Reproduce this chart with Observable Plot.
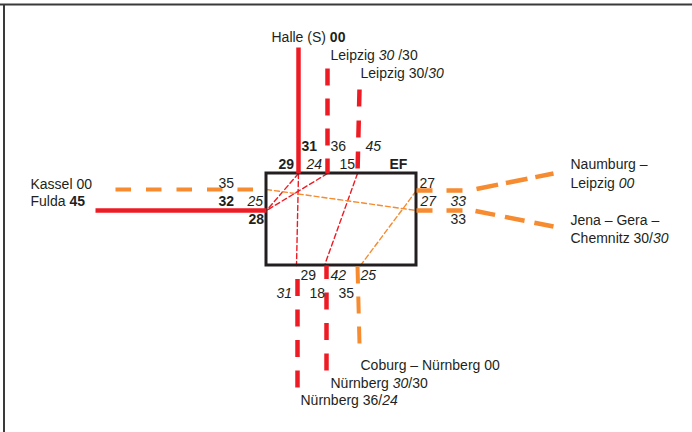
<!DOCTYPE html>
<html><head><meta charset="utf-8">
<script src="https://cdn.jsdelivr.net/npm/d3@7"></script>
<script src="https://cdn.jsdelivr.net/npm/@observablehq/plot@0.6"></script>
<style>html,body{margin:0;padding:0;background:#fff} text{white-space:pre}</style>
</head><body><div id="chart"></div>
<script>
// ---- data: schematic node diagram (Erfurt, EF) ----
const box = [{x1: 266, y1: 173, x2: 416, y2: 265}];

// thick route lines (id -> points)
const halle      = [[298, 47], [298, 173]];
const fulda      = [[95, 210], [266, 210]];
const leipzigA   = [[327, 68], [327, 173]];
const leipzigB   = [[359, 89], [357, 173]];
const nuernbergA = [[297, 387], [297, 265]];
const nuernbergB = [[326, 370], [326, 265]];
const kassel     = [[115, 189], [266, 189]];
const coburg     = [[359, 343], [357, 265]];
const naumburgH  = [[416, 190], [463, 190]];
const naumburgS  = [[476, 188.5], [553, 173]];
const jenaH      = [[416, 210], [466, 210]];
const jenaS      = [[475, 210.5], [553, 226]];

// thin connections inside the node
const connRed = [
  [[298, 173], [266, 210]],
  [[327, 173], [266, 210]],
  [[298, 173], [296, 265]],
  [[357, 173], [324, 265]]
];
const connOrange = [
  [[266, 189], [416, 210]],
  [[360, 265], [416, 190]]
];

// labels (** bold **, * italic *)
const labelText = [
  "Halle (S) **00**", "Leipzig *30* /30", "Leipzig 30/*30*",
  "**31**", "36", "*45*", "**29**", "*24*", "15", "**EF**",
  "Kassel 00", "Fulda **45**", "35", "**32**", "*25*", "**28**",
  "27", "*27*", "*33*", "33",
  "Naumburg \u2013", "Leipzig *00*", "Jena \u2013 Gera \u2013", "Chemnitz 30/*30*",
  "29", "*42*", "*25*", "*31*", "18", "35",
  "Coburg \u2013 Nürnberg 00", "Nürnberg *30*/30", "Nürnberg 36/*24*"
];
const labelX = [
  271, 330, 360,
  301, 330, 365, 278, 306, 339, 389,
  30, 30, 218, 218, 247, 248,
  419, 420, 450, 450,
  570, 570, 570, 570,
  300, 330, 360, 276, 309, 338,
  360, 330, 300
];
const labelY = [
  41.5, 59.5, 77.5,
  150.5, 150.5, 150.5, 168.5, 168.5, 168.5, 168.5,
  188.5, 205, 187.5, 205, 205, 223.5,
  187.5, 205.5, 205.5, 223.5,
  168.5, 187, 224, 242,
  279, 279, 279, 297, 297, 297,
  369.5, 387.5, 404.5
];

// ---- styles ----
const RED = "#ed1c24", ORANGE = "#f68b2f", INK = "#231f20";
const routeStyles = [
  {pts: halle, stroke: RED, w: 4.5, dash: null},
  {pts: fulda, stroke: RED, w: 4.5, dash: null},
  {pts: leipzigA, stroke: RED, w: 4.5, dash: "17,13"},
  {pts: leipzigB, stroke: RED, w: 4.5, dash: "17,14"},
  {pts: nuernbergA, stroke: RED, w: 4.5, dash: "17,13.5"},
  {pts: nuernbergB, stroke: RED, w: 4.5, dash: "17,13.5"},
  {pts: kassel, stroke: ORANGE, w: 4, dash: "15.5,15"},
  {pts: coburg, stroke: ORANGE, w: 4, dash: "17,13"},
  {pts: naumburgH, stroke: ORANGE, w: 4.5, dash: "16,14"},
  {pts: naumburgS, stroke: ORANGE, w: 4.5, dash: "22,8"},
  {pts: jenaH, stroke: ORANGE, w: 4.5, dash: "16,14"},
  {pts: jenaS, stroke: ORANGE, w: 4.5, dash: "20,10"}
];

const labels = labelText.map((t, i) => ({t, x: labelX[i], y: labelY[i]}));

const marks = [
  Plot.ruleY([4], {x1: 0, x2: 692, stroke: "#3a3a3a", strokeWidth: 2}),
  Plot.ruleX([3.5], {y1: 4, y2: 432, stroke: "#3a3a3a", strokeWidth: 2}),
  ...connRed.map(p => Plot.line(p, {x: d => d[0], y: d => d[1], stroke: RED, strokeWidth: 1.4, strokeDasharray: "5,3"})),
  ...connOrange.map(p => Plot.line(p, {x: d => d[0], y: d => d[1], stroke: ORANGE, strokeWidth: 1.4, strokeDasharray: "5,3"})),
  Plot.rect(box, {x1: "x1", y1: "y1", x2: "x2", y2: "y2", fill: "none", stroke: INK, strokeWidth: 3}),
  ...routeStyles.map(r => Plot.line(r.pts, {x: d => d[0], y: d => d[1], stroke: r.stroke, strokeWidth: r.w, strokeDasharray: r.dash ?? undefined, strokeLinecap: "butt"})),
  Plot.text(labels, {x: "x", y: "y", text: "t", textAnchor: "start", lineAnchor: "bottom", fontSize: 14, fill: INK})
];

const svg = Plot.plot({
  width: 692, height: 432, margin: 0,
  x: {domain: [0, 692], range: [0, 692], axis: null},
  y: {domain: [0, 432], range: [0, 432], axis: null},
  style: {background: "#fff", fontFamily: "'Liberation Sans', Arial, sans-serif", overflow: "visible"},
  marks
});

// turn **bold** / *italic* markup into tspans
svg.querySelectorAll("text").forEach(t => {
  const s = t.textContent;
  if (!s.includes("*")) return;
  t.textContent = "";
  s.split(/(\*\*[^*]+\*\*|\*[^*]+\*)/).filter(Boolean).forEach(part => {
    const ts = document.createElementNS("http://www.w3.org/2000/svg", "tspan");
    if (part.startsWith("**")) { ts.setAttribute("font-weight", "bold"); part = part.slice(2, -2); }
    else if (part.startsWith("*")) { ts.setAttribute("font-style", "italic"); part = part.slice(1, -1); }
    ts.textContent = part;
    t.appendChild(ts);
  });
});

document.getElementById("chart").appendChild(svg);
</script>
</body></html>
